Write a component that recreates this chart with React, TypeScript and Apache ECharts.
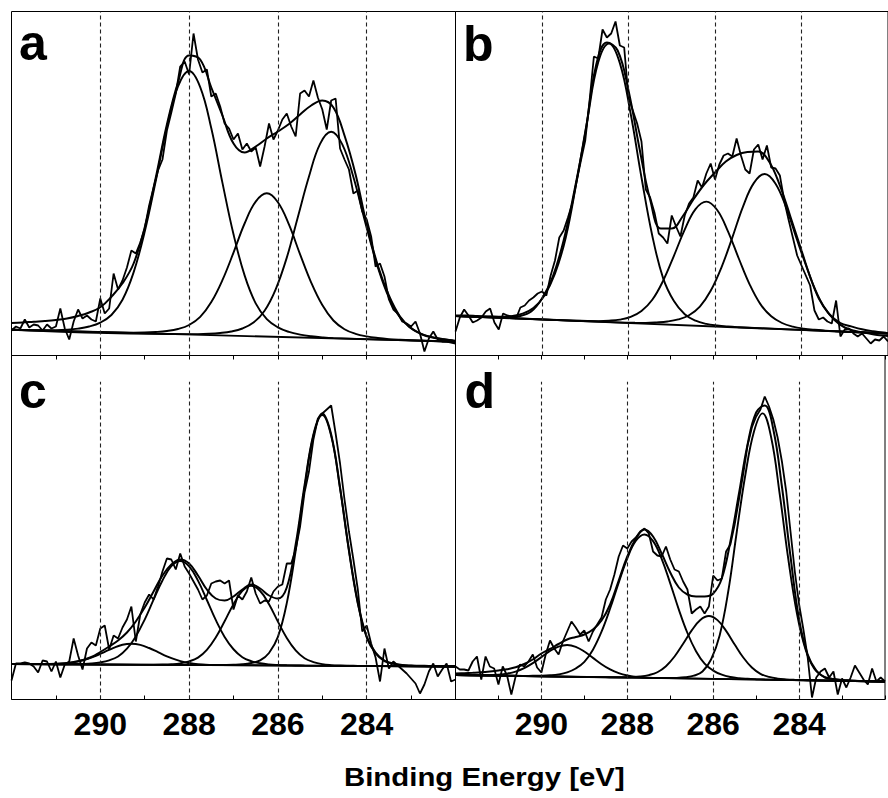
import React, { useEffect, useRef } from "react";
import * as echarts from "echarts";

// ---------- axis ----------
const E_MAX = 292;
const E_MIN = 282;
const labelTicks = [290, 288, 286, 284];
const dashedAt = [290, 288, 286, 284];
const panelLetters = ["a", "b", "c", "d"];
const xTitle = "Binding Energy [eV]";

// ---------- raw spectra (292 -> 282 eV, step 0.1) ----------
const RAW_START = 292;
const RAW_STEP = 0.1;
const rawA = [25,29,27,36,28,31,30,25,31,27, 29,47,27,16,34,46,37,40,36,34, 57,42,47,82,66,75,88,105,102,113, 127,150,168,185,196,225,243,262,289,294, 281,322,296,283,286,259,262,249,232,227, 216,222,206,212,204,208,189,209,232,216, 225,236,242,229,219,262,265,259,275,258, 246,226,255,257,207,196,186,162,165,144, 136,119,89,92,79,56,46,42,34,32, 29,34,22,4,17,24,16,14,14,13, 12];
const rawB = [24,38,46,40,33,35,38,44,47,33, 26,42,40,39,37,48,50,55,58,62, 64,60,80,95,118,125,138,152,174,195, 215,255,299,297,326,318,322,334,310,308, 258,245,232,214,166,158,143,122,118,112, 140,129,119,140,152,158,175,168,182,192, 176,191,200,202,199,217,200,186,182,206, 211,196,210,188,187,180,155,136,118,100, 90,80,70,45,36,38,34,32,55,19, 26,27,22,19,22,17,12,16,15,19, 14];
const rawC = [19,36,36,37,36,33,27,39,38,28, 38,22,35,38,61,44,30,51,57,54, 71,74,50,64,61,72,80,93,58,85, 97,105,100,113,128,141,140,130,146,133, 126,118,110,100,104,116,118,119,116,119, 90,104,100,108,122,106,96,99,98,108, 113,115,136,136,150,173,207,228,260,281, 286,290,294,266,236,200,168,140,110,68, 74,56,42,18,51,31,38,34,30,26, 21,16,6,15,28,36,23,30,36,18, 20];
const rawD = [33,30,30,29,38,43,20,43,33,31, 15,33,24,5,23,35,33,38,45,32, 27,45,59,51,45,58,68,78,72,65, 69,58,68,75,82,100,110,125,143,154, 151,158,162,168,171,166,148,144,143,153, 140,130,128,118,110,86,90,93,86,93, 124,119,121,148,155,175,200,226,254,272, 283,290,303,293,280,262,238,208,168,128, 95,70,42,2,22,28,31,22,28,5, 21,12,22,34,27,20,15,31,18,22, 18];

// ---------- envelopes (fit sums) ----------
const ENV_AB_STEP = 0.25;
const ENV_CD_STEP = 0.2;
const envA = [32.5,33,33.8,34.5, 35.5,37,39.5,43, 48.2,58.8,72.2,92, 128,178,231,273, 300,296,268,240, 212,203,209,217, 224,231.5,241,250, 255,248,220,181, 131,90,60,39, 27.5,21,17.8,16, 14.8];
const envB = [40,40,39.5,39, 38.6,38.5,39.5,44, 57,79,115,165, 222,290,313,305, 265,208,156,127, 127,139,156,171, 183,194,200.5,203.5, 204,194,170,138, 105,73,50,36, 28,24.5,22.5,20.5, 19.5];
const envC = [35.5,35.5,35.5,35.4,35.5, 35.7,36.3,37.5,39.5,42.5, 47.5,53,59,67,78, 92,108,124,135,140, 136,124,110,101,99, 103,110,115,111,104, 101,112,155,214,265, 286,265,212,150,97, 63,47,39,36,34.5, 34,33.8,33.6,33.4,33.3, 33.2];
const envD = [26,26.3,26.7,27.2,28, 29,30.3,32.2,35.5,40, 46,50.5,55.5,60,62.5, 65,70,79,95,119, 143,161,170,163,146, 127,112,105,103,103, 106,121,158,206,255, 287,294,270,213,143, 80,45,29,22,20.5, 19.5,19,18.6,18.2,17.9, 17.7];

// ---------- fitted components (start energy, step, values) ----------
const a1Start = 291.25, a2Start = 289.5, a3Start = 288.05;
const a1 = [25.2,25.3,25.8,26.9,29.0,32.9,40.5,55.7,83.1,123.6,174.7,228.4,269.0,284.5,268.4,227.2,172.9,121.2,80.1,52.1,36.3,28.1,23.6,20.9,19.2,18.1,17.4];
const a2 = [23.0,22.9,23.0,23.5,24.5,26.5,30.5,38.6,53.4,75.3,102.9,132.0,153.9,162.2,153.3,130.8,101.1,72.9,50.4,35.0,26.3,21.7,19.1,17.5,16.4,15.7,15.2];
const a3 = [21.4,21.4,21.7,22.5,24.0,27.0,32.9,44.8,66.2,97.9,138.6,179.0,211.7,223.8,211.1,178.4,136.1,95.5,63.2,41.2,28.7,22.2,18.6,16.5,14.9];

const b1Start = 291.7, b2Start = 289.45, b3Start = 288.1;
const b1 = [39.1,38.8,38.7,38.8,39.4,41.8,47.5,59.6,81.8,118,174,236,293.2,312.0,292.4,241.7,178.0,119.8,77.4,54.4,41.3,34.8,31.6,30.0,29.0,28.3,27.75];
const b2 = [35.1,34.8,34.5,34.4,34.8,35.9,38.6,44.5,55.7,74.7,99.7,125.9,146.4,153.9,145.5,124.2,97.0,71.2,51.4,39.2,32.5,28.9,26.9,25.7,24.9,24.3,23.8];
const b3 = [32.9,32.7,32.65,33.1,34.0,36.1,40.3,48.9,64.7,88.2,117.9,149.2,172.6,181.5,171.8,147.4,115.3,84.7,57,41,32.5,29.1,26.2,24.3,23.0];

const c1Start = 291.3, c2Start = 291.0, c3Start = 289.2, c4Start = 287.6;
const c1 = [35.4,35.5,35.8,36.6,37.9,40.3,43.6,47.7,51.7,54.8,55.8,54.7,51.5,47.4,43.2,39.8,37.3,35.9,35.0,34.6,34.4];
const c2 = [35.3,35.3,35.4,35.6,36.05,37.1,39.15,43.0,50.85,63.1,79.95,99.8,119.05,133.3,138.55,133.2,118.85,99.5,79.55,62.6,50.25,42.3,38.35,36.2,35.05,34.5,34.2,34.0,33.9];
const c3 = [34.85,34.85,34.85,34.95,35.3,36.15,38.1,41.85,49.6,61.95,78.2,95.35,108.6,113.65,108.5,95.15,77.9,61.55,49.1,41.25,37.4,35.35,34.4,33.95,33.75,33.65,33.55];
const c4 = [34.45,34.45,34.55,34.75,35.2,36.45,39.1,46.55,62.6,96.35,148.7,211.05,263.7,284.45,263.6,210.85,148.4,95.95,62.1,45.95,38.4,35.65,34.3,33.75,33.45,33.25,33.15];

const d1Start = 291.4, d2Start = 290.6, d3Start = 288.7, d4Start = 287.45;
const d1 = [24.24,24.33,24.75,25.82,27.89,31.36,36.33,42.4,48.47,52.94,54.51,52.68,47.95,41.62,35.29,30.06,26.33,24.0,22.67,21.99,21.64];
const d2 = [23.7,23.65,23.7,23.8,24.2,25.1,27.1,31.0,37.65,49.8,67.8,90.96,116.9,141.2,158.7,165.0,158.4,140.7,116.15,89.9,66.5,48.3,35.8,28.9,24.8,22.5,21.3,20.7,20.3,20.0,19.8];
const d3 = [22.4,22.35,22.25,22.25,22.45,23.0,24.4,27.25,33.3,43.0,55.75,69.1,79.6,83.45,79.35,68.6,55.0,41.95,32.0,25.7,22.55,20.9,20.1,19.65,19.4,19.2,19.0];
const d4 = [21.6,21.5,21.5,21.65,22.3,23.8,28,40,64,108,168,225,268,286.15,262,205,140,86,50,31,23.5,20.8,19.5,19.0,18.6,18.4,18.2];

// ---------- linear backgrounds [E, intensity] ----------
const bgA = [[292, 25.8], [282, 13.8]];
const bgB = [[292, 39.5], [282, 22]];
const bgC = [[292, 35.5], [282, 33]];
const bgD = [[292, 24.5], [282, 18]];

// ---------- layout (style only) ----------
const Y_MAX = 344;
const LEFT_X = 11.5;
const MID_X = 455.5;
const TOP_Y = 11.5;
const MID_Y = 355.5;
const PANEL_H = 344;
const FONT = "'Liberation Sans', Arial, Helvetica, sans-serif";

function seq(start: number, step: number, values: number[]) {
  return values.map((v, i) => [Math.round((start - i * step) * 1000) / 1000, v]);
}

export default function App() {
  const ref = useRef<HTMLDivElement>(null);

  useEffect(() => {
    if (!ref.current) return;
    const chart = echarts.init(ref.current, undefined, { renderer: "svg" });

    const panels = [
      { raw: rawA, env: envA, envStep: ENV_AB_STEP, comps: [[a1Start, 0.25, a1], [a2Start, 0.25, a2], [a3Start, 0.25, a3]], bg: bgA, dashTop: Y_MAX },
      { raw: rawB, env: envB, envStep: ENV_AB_STEP, comps: [[b1Start, 0.25, b1], [b2Start, 0.25, b2], [b3Start, 0.25, b3]], bg: bgB, dashTop: Y_MAX },
      { raw: rawC, env: envC, envStep: ENV_CD_STEP, comps: [[c1Start, 0.2, c1], [c2Start, 0.2, c2], [c3Start, 0.2, c3], [c4Start, 0.2, c4]], bg: bgC, dashTop: 317.8 },
      { raw: rawD, env: envD, envStep: ENV_CD_STEP, comps: [[d1Start, 0.2, d1], [d2Start, 0.2, d2], [d3Start, 0.2, d3], [d4Start, 0.2, d4]], bg: bgD, dashTop: 317.8 },
    ];

    const grids = [
      { left: LEFT_X, top: TOP_Y, width: MID_X - LEFT_X, height: PANEL_H },
      { left: MID_X, top: TOP_Y, width: 443.5, height: PANEL_H },
      { left: LEFT_X, top: MID_Y, width: MID_X - LEFT_X, height: PANEL_H },
      { left: MID_X, top: MID_Y, width: 443.5, height: PANEL_H },
    ].map((g) => ({ ...g, show: true, borderColor: "#000", borderWidth: 1, backgroundColor: "transparent", containLabel: false }));

    const baseX = (gridIndex: number, showLabels: boolean, position: "top" | "bottom", showTicks: boolean) => ({
      type: "value",
      gridIndex,
      position,
      min: E_MIN,
      max: E_MAX,
      interval: 1,
      inverse: true,
      axisLine: { show: false },
      splitLine: { show: false },
      axisTick: { show: showTicks, inside: true, length: 4, lineStyle: { color: "#000", width: 1 } },
      axisLabel: {
        show: showLabels,
        margin: 8,
        color: "#000",
        fontSize: 32,
        fontWeight: "bold",
        fontFamily: FONT,
        formatter: (v: number) => (labelTicks.includes(Math.round(v)) ? String(Math.round(v)) : ""),
      },
    });

    const xAxis = [
      baseX(0, false, "bottom", false),
      baseX(1, false, "bottom", false),
      baseX(2, true, "bottom", true),
      baseX(3, true, "bottom", true),
      baseX(2, false, "top", true),
      baseX(3, false, "top", true),
    ];
    const yAxis = [0, 1, 2, 3].map((i) => ({ type: "value", gridIndex: i, min: 0, max: Y_MAX, show: false }));

    const line = (i: number, data: number[][], smooth: boolean, width: number) => ({
      type: "line",
      xAxisIndex: i,
      yAxisIndex: i,
      data,
      smooth: smooth ? 0.4 : false,
      showSymbol: false,
      symbol: "none",
      silent: true,
      lineStyle: { color: "#000", width },
    });

    const series: any[] = [];
    panels.forEach((p, i) => {
      const bg = p.bg as number[][];
      const bgSeries: any = line(i, bg, false, 1.8);
      bgSeries.markLine = {
        silent: true,
        symbol: ["none", "none"],
        label: { show: false },
        lineStyle: { type: [4, 3], color: "#222", width: 1.1 },
        data: dashedAt.map((x) => [{ coord: [x, 0] }, { coord: [x, p.dashTop] }]),
      };
      series.push(bgSeries);
      p.comps.forEach((c: any) => {
        const pts = seq(c[0], c[1], c[2]);
        // the fitted peaks sit on the background: join them to its end points
        if (pts[0][0] < E_MAX) pts.unshift([bg[0][0], bg[0][1]]);
        if (pts[pts.length - 1][0] > E_MIN) pts.push([bg[1][0], bg[1][1]]);
        series.push(line(i, pts, true, 1.9));
      });
      series.push(line(i, seq(E_MAX, p.envStep, p.env), true, 2));
      series.push(line(i, seq(RAW_START, RAW_STEP, p.raw), false, 1.8));
    });

    const letterPos = [
      { x: 19, y: 42.7 },
      { x: 463, y: 43.7 },
      { x: 19, y: 390.7 },
      { x: 464.5, y: 390.7 },
    ];

    const graphic: any[] = panelLetters.map((t, i) => ({
      type: "text",
      x: letterPos[i].x,
      y: letterPos[i].y,
      silent: true,
      style: { text: t, fill: "#000", font: `bold 50px ${FONT}`, textAlign: "left", textVerticalAlign: "middle" },
    }));
    graphic.push({
      type: "text",
      x: 344,
      y: 777,
      scaleX: 1.13,
      silent: true,
      style: { text: xTitle, fill: "#000", font: `bold 26px ${FONT}`, textAlign: "left", textVerticalAlign: "middle" },
    });

    chart.setOption({
      animation: false,
      backgroundColor: "#fff",
      grid: grids,
      xAxis,
      yAxis,
      series,
      graphic,
    });

    return () => chart.dispose();
  }, []);

  return <div ref={ref} style={{ position: "absolute", left: 0, top: 0, width: 888, height: 798 }} />;
}
